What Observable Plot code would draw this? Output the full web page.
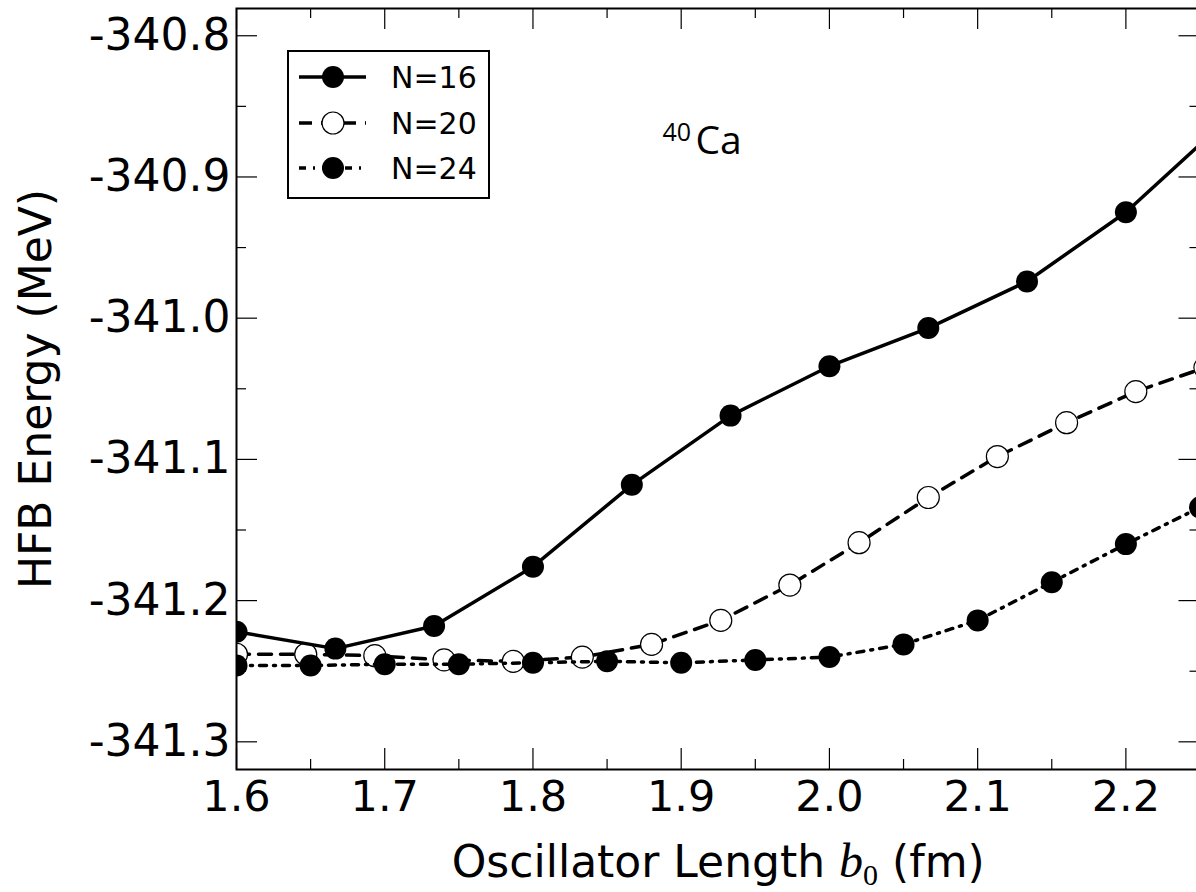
<!DOCTYPE html>
<html><head><meta charset="utf-8">
<script src="https://cdn.jsdelivr.net/npm/d3@7"></script>
<script src="https://cdn.jsdelivr.net/npm/@observablehq/plot@0.6"></script>
<style>
html,body{margin:0;padding:0;overflow:hidden;background:#fff;}
#chart{width:1196px;height:892px;overflow:hidden;position:relative;}
</style>
</head><body><div id="chart"></div>
<script>
// ---- data ----
const seriesNames = ["N=16", "N=20", "N=24"];
const b16 = [1.6, 1.6667, 1.7333, 1.8, 1.8667, 1.9333, 2.0, 2.0667, 2.1333, 2.2, 2.2667];
const e16 = [-341.222, -341.234, -341.218, -341.176, -341.118, -341.069, -341.034, -341.007, -340.974, -340.925, -340.861];
const b20 = [1.6, 1.6467, 1.6933, 1.74, 1.7867, 1.8333, 1.88, 1.9267, 1.9733, 2.02, 2.0667, 2.1133, 2.16, 2.2067, 2.2533];
const e20 = [-341.238, -341.238, -341.239, -341.242, -341.243, -341.240, -341.231, -341.214, -341.189, -341.159, -341.127, -341.098, -341.074, -341.052, -341.035];
const b24 = [1.6, 1.65, 1.7, 1.75, 1.8, 1.85, 1.9, 1.95, 2.0, 2.05, 2.1, 2.15, 2.2, 2.25];
const e24 = [-341.246, -341.246, -341.245, -341.245, -341.244, -341.243, -341.244, -341.242, -341.240, -341.231, -341.214, -341.187, -341.160, -341.134];
const xMajor = [1.6, 1.7, 1.8, 1.9, 2.0, 2.1, 2.2];
const xMinor = [1.65, 1.75, 1.85, 1.95, 2.05, 2.15, 2.25];
const yMajor = [-340.8, -340.9, -341.0, -341.1, -341.2, -341.3];
const yMinor = [-340.85, -340.95, -341.05, -341.15, -341.25];
const xLabel = "Oscillator Length ";
const yLabel = "HFB Energy (MeV)";
const nucleusMass = "40";
const nucleusName = "Ca";

const toRows = (bs, es, s) => bs.map((b, i) => ({b, e: es[i], s}));
const d16 = toRows(b16, e16, seriesNames[0]);
const d20 = toRows(b20, e20, seriesNames[1]);
const d24 = toRows(b24, e24, seriesNames[2]);

const W = 1200, H = 892, mL = 236, mR = 0.5, mT = 8, mB = 123;
const innerW = W - mL - mR, innerH = H - mT - mB;
const font = "DejaVu Sans";
const dash20 = "13,9", dash24 = "7,7,2,7";

const svg = Plot.plot({
  width: W, height: H,
  marginLeft: mL, marginRight: mR, marginTop: mT, marginBottom: mB,
  style: {maxWidth: "none", background: "white", fontFamily: font, color: "black", overflow: "visible"},
  x: {domain: [1.6, 2.25], axis: null},
  y: {domain: [-341.3196, -340.7807], axis: null},
  marks: [
    // series
    Plot.line(d20, {x: "b", y: "e", stroke: "black", strokeWidth: 3.5, strokeDasharray: dash20, clip: true}),
    Plot.dot(d20, {x: "b", y: "e", r: 11, fill: "white", stroke: "black", strokeWidth: 1.2, clip: true}),
    Plot.line(d16, {x: "b", y: "e", stroke: "black", strokeWidth: 3.5, clip: true}),
    Plot.dot(d16, {x: "b", y: "e", r: 11, fill: "black", stroke: null, clip: true}),
    Plot.line(d24, {x: "b", y: "e", stroke: "black", strokeWidth: 3.5, strokeDasharray: dash24, clip: true}),
    Plot.dot(d24, {x: "b", y: "e", r: 11, fill: "black", stroke: null, clip: true}),
    // inward ticks (bottom/top, left/right)
    Plot.tickX(xMajor, {x: d => d, insetTop: innerH - 21, stroke: "black", strokeWidth: 1.2}),
    Plot.tickX(xMajor, {x: d => d, insetBottom: innerH - 21, stroke: "black", strokeWidth: 1.2}),
    Plot.tickX(xMinor, {x: d => d, insetTop: innerH - 10, stroke: "black", strokeWidth: 1.2}),
    Plot.tickX(xMinor, {x: d => d, insetBottom: innerH - 10, stroke: "black", strokeWidth: 1.2}),
    Plot.tickY(yMajor, {y: d => d, insetRight: innerW - 21, stroke: "black", strokeWidth: 1.2}),
    Plot.tickY(yMajor, {y: d => d, insetLeft: innerW - 21, stroke: "black", strokeWidth: 1.2}),
    Plot.tickY(yMinor, {y: d => d, insetRight: innerW - 10, stroke: "black", strokeWidth: 1.2}),
    Plot.tickY(yMinor, {y: d => d, insetLeft: innerW - 10, stroke: "black", strokeWidth: 1.2}),
    Plot.frame({stroke: "black", strokeWidth: 2}),
    // tick labels
    Plot.axisX(xMajor, {anchor: "bottom", tickSize: 0, tickPadding: 11, fontSize: 43, label: null, tickFormat: d => d.toFixed(1)}),
    Plot.axisY(yMajor, {anchor: "left", tickSize: 0, tickPadding: 6, fontSize: 44, label: null, tickFormat: d => d.toFixed(1)}),
    // axis titles
    Plot.text([xLabel], {text: d => d, frameAnchor: "bottom", dy: 107, lineAnchor: "bottom", textAnchor: "middle", fontSize: 44, className: "xlab"}),
    Plot.text([yLabel], {text: d => d, frameAnchor: "left", dx: -186, rotate: -90, lineAnchor: "bottom", textAnchor: "middle", fontSize: 44}),
    // nucleus annotation
    Plot.text([nucleusMass], {text: d => d, frameAnchor: "top-left", dx: 426, dy: 132, lineAnchor: "bottom", textAnchor: "start", fontSize: 25, fontFamily: "Open Sans"}),
    Plot.text([nucleusName], {text: d => d, frameAnchor: "top-left", dx: 459, dy: 145.5, lineAnchor: "bottom", textAnchor: "start", fontSize: 39, fontFamily: "Open Sans"})
  ]
});
document.getElementById("chart").appendChild(svg);

// x-axis title with math-italic b_0
const xt = d3.select(svg).select("g.xlab text");
xt.text(null);
xt.append("tspan").text(xLabel);
xt.append("tspan").attr("font-family", "Liberation Serif").attr("font-style", "italic").attr("font-size", 48).text("b");
xt.append("tspan").attr("font-family", "Liberation Serif").attr("font-size", 30).attr("dy", 8).text("0");
xt.append("tspan").attr("dy", -8).text(" (fm)");

// legend
const lg = d3.select(svg).append("g").attr("font-family", font).attr("text-anchor", "start");
lg.append("rect").attr("x", 288).attr("y", 51).attr("width", 201).attr("height", 147)
  .attr("fill", "white").attr("stroke", "black").attr("stroke-width", 2);
const styles = [
  {dash: null, fill: "black", stroke: "none"},
  {dash: dash20, fill: "white", stroke: "black"},
  {dash: dash24, fill: "black", stroke: "none"}
];
const rowY = [77, 123, 168];
seriesNames.forEach((name, i) => {
  const y = rowY[i], st = styles[i];
  lg.append("line").attr("x1", 299).attr("x2", 366).attr("y1", y).attr("y2", y)
    .attr("stroke", "black").attr("stroke-width", 3.5).attr("stroke-dasharray", st.dash);
  lg.append("circle").attr("cx", 333).attr("cy", y).attr("r", 11)
    .attr("fill", st.fill).attr("stroke", st.stroke).attr("stroke-width", 1.2);
  lg.append("text").attr("x", 391).attr("y", y + 11).attr("font-size", 30).attr("fill", "black")
    .attr("text-anchor", "start").text(name);
});
</script>
</body></html>
